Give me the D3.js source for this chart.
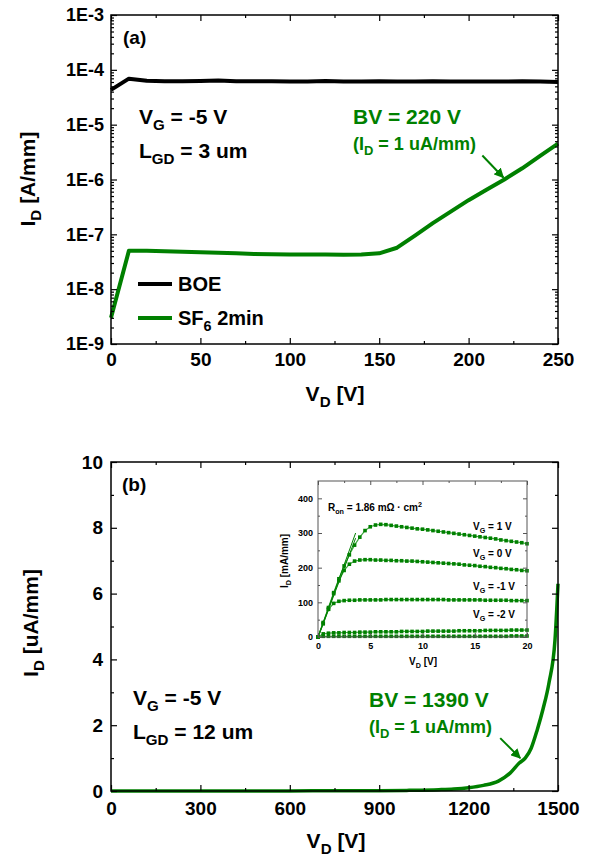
<!DOCTYPE html>
<html>
<head>
<meta charset="utf-8">
<script src="https://cdn.jsdelivr.net/npm/d3@7"></script>
<style>
  body { margin: 0; background: #fff; }
  svg text { font-family: "Liberation Sans", Arial, sans-serif; font-weight: bold; white-space: pre; }
</style>
</head>
<body>
<script>
// ---- panel (a): log I_D vs V_D, L_GD = 3 um
const aV = [0, 10, 20, 30, 40, 50, 60, 70, 80, 90, 100, 110, 120, 130, 140, 150, 160, 170, 180, 190, 200, 210, 220, 230, 240, 250];
const boeI = [4.3e-5, 6.9e-5, 6.3e-5, 6.2e-5, 6.2e-5, 6.25e-5, 6.4e-5, 6.2e-5, 6.2e-5, 6.2e-5, 6.1e-5, 6.15e-5, 6.25e-5, 6.1e-5, 6.1e-5, 6.2e-5, 6.1e-5, 6.1e-5, 6.2e-5, 6.1e-5, 6.1e-5, 6.15e-5, 6.1e-5, 6.2e-5, 6.1e-5, 6.0e-5];
const sf6I = [3e-9, 5e-8, 5e-8, 4.9e-8, 4.8e-8, 4.7e-8, 4.6e-8, 4.5e-8, 4.4e-8, 4.35e-8, 4.3e-8, 4.3e-8, 4.3e-8, 4.25e-8, 4.3e-8, 4.5e-8, 5.7e-8, 9.5e-8, 1.6e-7, 2.6e-7, 4.2e-7, 6.5e-7, 1.0e-6, 1.6e-6, 2.7e-6, 4.5e-6];
const aXTicks = [0, 50, 100, 150, 200, 250];
const aYTicks = ["1E-9", "1E-8", "1E-7", "1E-6", "1E-5", "1E-4", "1E-3"];
const aBV = 220;

// ---- panel (b): linear I_D vs V_D, L_GD = 12 um
const bV = [0, 300, 600, 900, 1000, 1100, 1150, 1200, 1250, 1300, 1340, 1370, 1390, 1410, 1430, 1450, 1470, 1490, 1500];
const bI = [0, 0, 0.003, 0.01, 0.02, 0.04, 0.06, 0.1, 0.17, 0.3, 0.55, 0.85, 1.0, 1.3, 1.85, 2.5, 3.3, 4.6, 6.3];
const bXTicks = [0, 300, 600, 900, 1200, 1500];
const bYTicks = [0, 2, 4, 6, 8, 10];
const bBV = 1390;

// ---- inset: output curves
const insV = [0, 0.5, 1, 1.5, 2, 2.5, 3, 3.5, 4, 4.5, 5, 5.5, 6, 6.5, 7, 7.5, 8, 8.5, 9, 9.5, 10,
  10.5, 11, 11.5, 12, 12.5, 13, 13.5, 14, 14.5, 15, 15.5, 16, 16.5, 17, 17.5, 18, 18.5, 19, 19.5, 20];
const vgP1 = [0, 42, 85, 128, 168, 205, 237, 265, 288, 307, 318, 323, 325, 324, 322, 320, 318, 316, 314, 312, 311,
  309, 307, 305, 303, 301, 299, 297, 295, 293, 291, 289, 287, 285, 283, 280, 278, 276, 274, 272, 269];
const vg0 = [0, 40, 80, 125, 162, 192, 210, 219, 222, 223, 223, 222, 222, 221, 221, 220, 220, 219, 219, 218, 217,
  216, 215, 214, 213, 212, 211, 210, 208, 207, 206, 204, 203, 201, 200, 198, 197, 195, 194, 192, 191];
const vgM1 = [0, 38, 80, 97, 103, 105, 106, 106, 107, 107, 107, 107, 107, 108, 108, 108, 108, 108, 108, 108, 108,
  108, 108, 108, 108, 107, 107, 107, 107, 107, 107, 107, 106, 106, 106, 106, 106, 105, 105, 105, 105];
const vgM2 = [0, 9, 11, 12, 12, 13, 13, 13, 14, 14, 14, 15, 15, 15, 15, 15, 16, 16, 16, 16, 16,
  17, 17, 17, 17, 17, 17, 18, 18, 18, 18, 18, 19, 19, 19, 19, 19, 20, 20, 20, 20];
const vgM3 = [0, 2, 2, 2, 2, 2, 2, 2, 2, 2, 2, 2, 2, 2, 2, 2, 2, 2, 2, 2, 2,
  2, 2, 2, 2, 2, 2, 2, 2, 2, 2, 2, 2, 2, 2, 2, 2, 3, 3, 3, 3];
const fitV = [0, 3.6];
const fitA = [0, 300];
const fitB = [0, 285];
const gateLabels = ["1", "0", "-1", "-2"];
const insXTicks = [0, 5, 10, 15, 20];
const insYTicks = [0, 100, 200, 300, 400];

const green = "#008000";

const svg = d3.select("body").append("svg")
  .attr("width", 589).attr("height", 856);

// text with sub/superscripts: parts = [[string, "sub"|"sup"|""], ...]
function rich(sel, parts, size) {
  let shift = 0;
  parts.forEach(([s, k]) => {
    const target = k === "sub" ? size * 0.3 : k === "sup" ? -size * 0.4 : 0;
    sel.append("tspan")
      .attr("dy", target - shift)
      .attr("font-size", k ? size * 0.72 : size)
      .text(s);
    shift = target;
  });
  return sel;
}

// box with inward ticks on all four sides
function frame(g, x, y, o) {
  const [x0, x1] = x.range();
  const [y1, y0] = y.range();
  const styleAxis = (a, fs) => a
    .attr("font-size", fs).attr("font-family", null)
    .call(s => s.select(".domain").remove())
    .call(s => s.selectAll("line").attr("stroke", o.color).attr("stroke-width", o.tw))
    .call(s => s.selectAll("text").attr("fill", "#000"));

  [[d3.axisBottom, y1, true], [d3.axisTop, y0, false]].forEach(([ax, ty, lab]) => {
    g.append("g").attr("transform", `translate(0,${ty})`)
      .call(ax(x).tickValues(o.xMinor).tickSize(-o.minor).tickFormat(""))
      .call(a => styleAxis(a, o.xfs));
    g.append("g").attr("transform", `translate(0,${ty})`)
      .call(ax(x).tickValues(o.xMajor).tickSize(-o.major).tickPadding(o.xpad)
        .tickFormat(lab ? o.xFmt : ""))
      .call(a => styleAxis(a, o.xfs));
  });
  [[d3.axisLeft, x0, true], [d3.axisRight, x1, false]].forEach(([ax, tx, lab]) => {
    g.append("g").attr("transform", `translate(${tx},0)`)
      .call(ax(y).tickValues(o.yMinor).tickSize(-o.minor).tickFormat(""))
      .call(a => styleAxis(a, o.yfs));
    g.append("g").attr("transform", `translate(${tx},0)`)
      .call(ax(y).tickValues(o.yMajor).tickSize(-o.major).tickPadding(o.ypad)
        .tickFormat(lab ? o.yFmt : ""))
      .call(a => styleAxis(a, o.yfs));
  });
  g.append("rect")
    .attr("x", x0).attr("y", y0).attr("width", x1 - x0).attr("height", y1 - y0)
    .attr("fill", "none").attr("stroke", o.color).attr("stroke-width", o.fw);
}

function arrow(g, id, tip, dx, dy) {
  svg.append("defs").append("marker")
    .attr("id", id).attr("viewBox", "0 0 10 10").attr("refX", 9).attr("refY", 5)
    .attr("markerWidth", 5).attr("markerHeight", 5).attr("orient", "auto")
    .append("path").attr("d", "M0,0L10,5L0,10z").attr("fill", green);
  g.append("line")
    .attr("x1", tip[0] + dx).attr("y1", tip[1] + dy)
    .attr("x2", tip[0]).attr("y2", tip[1])
    .attr("stroke", green).attr("stroke-width", 2)
    .attr("marker-end", `url(#${id})`);
}

// ================= panel (a)
{
  const g = svg.append("g");
  const x = d3.scaleLinear().domain([0, 250]).range([111, 558]);
  const y = d3.scaleLog().domain([1e-9, 1e-3]).range([344, 15]);
  const yMajor = aYTicks.map(Number);
  const yMinor = [];
  yMajor.slice(0, -1).forEach(d => { for (let k = 2; k <= 9; k++) yMinor.push(d * k); });

  const line = d3.line().x((d, i) => x(aV[i])).y(d => y(d));
  g.append("path").datum(boeI).attr("d", line)
    .attr("fill", "none").attr("stroke", "#000").attr("stroke-width", 4).attr("stroke-linejoin", "round");
  g.append("path").datum(sf6I).attr("d", line)
    .attr("fill", "none").attr("stroke", green).attr("stroke-width", 4).attr("stroke-linejoin", "round");

  frame(g, x, y, {
    xMajor: aXTicks, xMinor: [25, 75, 125, 175, 225], yMajor, yMinor,
    xFmt: d3.format("d"), yFmt: (d, i) => aYTicks[i],
    major: 6, minor: 3, xpad: 9, ypad: 7, xfs: 19, yfs: 18, color: "#000", tw: 1.2, fw: 1.5
  });

  rich(g.append("text").attr("x", 335).attr("y", 401).attr("text-anchor", "middle"),
    [["V", ""], ["D", "sub"], [" [V]", ""]], 21);
  rich(g.append("text").attr("transform", "translate(35,179) rotate(-90)").attr("text-anchor", "middle"),
    [["I", ""], ["D", "sub"], [" [A/mm]", ""]], 21);

  g.append("text").attr("x", 123).attr("y", 44).attr("font-size", 19).text("(a)");
  rich(g.append("text").attr("x", 139).attr("y", 124), [["V", ""], ["G", "sub"], [" = -5 V", ""]], 21);
  rich(g.append("text").attr("x", 139).attr("y", 158), [["L", ""], ["GD", "sub"], [" = 3 um", ""]], 21);

  // legend
  const leg = [["BOE", "#000"], ["SF", green]];
  leg.forEach(([name, c], i) => {
    const ly = 284 + i * 34;
    g.append("line").attr("x1", 138).attr("x2", 172).attr("y1", ly).attr("y2", ly)
      .attr("stroke", c).attr("stroke-width", 4);
    const t = g.append("text").attr("x", 178).attr("y", ly + 7);
    if (i === 0) rich(t, [["BOE", ""]], 20);
    else rich(t, [["SF", ""], ["6", "sub"], [" 2min", ""]], 20);
  });

  // BV annotation
  g.append("text").attr("x", 353).attr("y", 124).attr("font-size", 21).attr("fill", green).text("BV = 220 V");
  rich(g.append("text").attr("x", 353).attr("y", 150).attr("fill", green),
    [["(I", ""], ["D", "sub"], [" = 1 uA/mm)", ""]], 18);
  arrow(g, "arrA", [x(aBV) - 1, y(1e-6) - 2], -21, -22);
}

// ================= panel (b)
{
  const g = svg.append("g");
  const x = d3.scaleLinear().domain([0, 1500]).range([111, 558]);
  const y = d3.scaleLinear().domain([0, 10]).range([791, 462]);

  g.append("path").datum(bI)
    .attr("d", d3.line().x((d, i) => x(bV[i])).y(d => y(d)).curve(d3.curveMonotoneX))
    .attr("fill", "none").attr("stroke", green).attr("stroke-width", 3.5).attr("stroke-linejoin", "round");

  frame(g, x, y, {
    xMajor: bXTicks, xMinor: [150, 450, 750, 1050, 1350], yMajor: bYTicks, yMinor: [1, 3, 5, 7, 9],
    xFmt: d3.format("d"), yFmt: d3.format("d"),
    major: 6, minor: 3, xpad: 11, ypad: 8, xfs: 19, yfs: 19, color: "#000", tw: 1.2, fw: 1.5
  });

  rich(g.append("text").attr("x", 336).attr("y", 848).attr("text-anchor", "middle"),
    [["V", ""], ["D", "sub"], [" [V]", ""]], 21);
  rich(g.append("text").attr("transform", "translate(38,623) rotate(-90)").attr("text-anchor", "middle"),
    [["I", ""], ["D", "sub"], [" [uA/mm]", ""]], 21);

  g.append("text").attr("x", 122).attr("y", 491).attr("font-size", 19).text("(b)");
  rich(g.append("text").attr("x", 133).attr("y", 705), [["V", ""], ["G", "sub"], [" = -5 V", ""]], 21);
  rich(g.append("text").attr("x", 133).attr("y", 739), [["L", ""], ["GD", "sub"], [" = 12 um", ""]], 21);

  g.append("text").attr("x", 369).attr("y", 707).attr("font-size", 21).attr("fill", green).text("BV = 1390 V");
  rich(g.append("text").attr("x", 369).attr("y", 733).attr("fill", green),
    [["(I", ""], ["D", "sub"], [" = 1 uA/mm)", ""]], 18);
  arrow(g, "arrB", [x(bBV) - 5, y(1.0)], -20, -20);
}

// ================= inset
{
  const g = svg.append("g");
  const x = d3.scaleLinear().domain([0, 20]).range([318, 527]);
  const y = d3.scaleLinear().domain([0, 450]).range([637, 481]);
  const series = [vgP1, vg0, vgM1, vgM2, vgM3];
  const line = d3.line().x((d, i) => x(insV[i])).y(d => y(d));

  series.forEach(s => {
    g.append("path").datum(s).attr("d", line)
      .attr("fill", "none").attr("stroke", "#3fa83f").attr("stroke-width", 1.2);
    g.selectAll(null).data(s).join("rect")
      .attr("x", (d, i) => x(insV[i]) - 1.8).attr("y", d => y(d) - 1.8)
      .attr("width", 3.6).attr("height", 3.6).attr("fill", green);
  });
  [fitA, fitB].forEach(f => {
    g.append("path").datum(f).attr("d", d3.line().x((d, i) => x(fitV[i])).y(d => y(d)))
      .attr("stroke", green).attr("stroke-width", 1);
  });

  frame(g, x, y, {
    xMajor: insXTicks, xMinor: [2.5, 7.5, 12.5, 17.5], yMajor: insYTicks, yMinor: [50, 150, 250, 350],
    xFmt: d3.format("d"), yFmt: d3.format("d"),
    major: 4, minor: 2, xpad: 6, ypad: 5, xfs: 9, yfs: 9, color: "#555", tw: 1, fw: 1
  });

  rich(g.append("text").attr("x", 423).attr("y", 665).attr("text-anchor", "middle"),
    [["V", ""], ["D", "sub"], [" [V]", ""]], 10);
  rich(g.append("text").attr("transform", "translate(288,561) rotate(-90)").attr("text-anchor", "middle"),
    [["I", ""], ["D", "sub"], [" [mA/mm]", ""]], 10);
  rich(g.append("text").attr("x", 328).attr("y", 511),
    [["R", ""], ["on", "sub"], [" = 1.86 m\u03A9 \u00B7 cm", ""], ["2", "sup"]], 10);

  const labelY = [530, 557, 590, 618];
  gateLabels.forEach((v, i) => {
    rich(g.append("text").attr("x", 473).attr("y", labelY[i]),
      [["V", ""], ["G", "sub"], [` = ${v} V`, ""]], 10);
  });
}
</script>
</body>
</html>
